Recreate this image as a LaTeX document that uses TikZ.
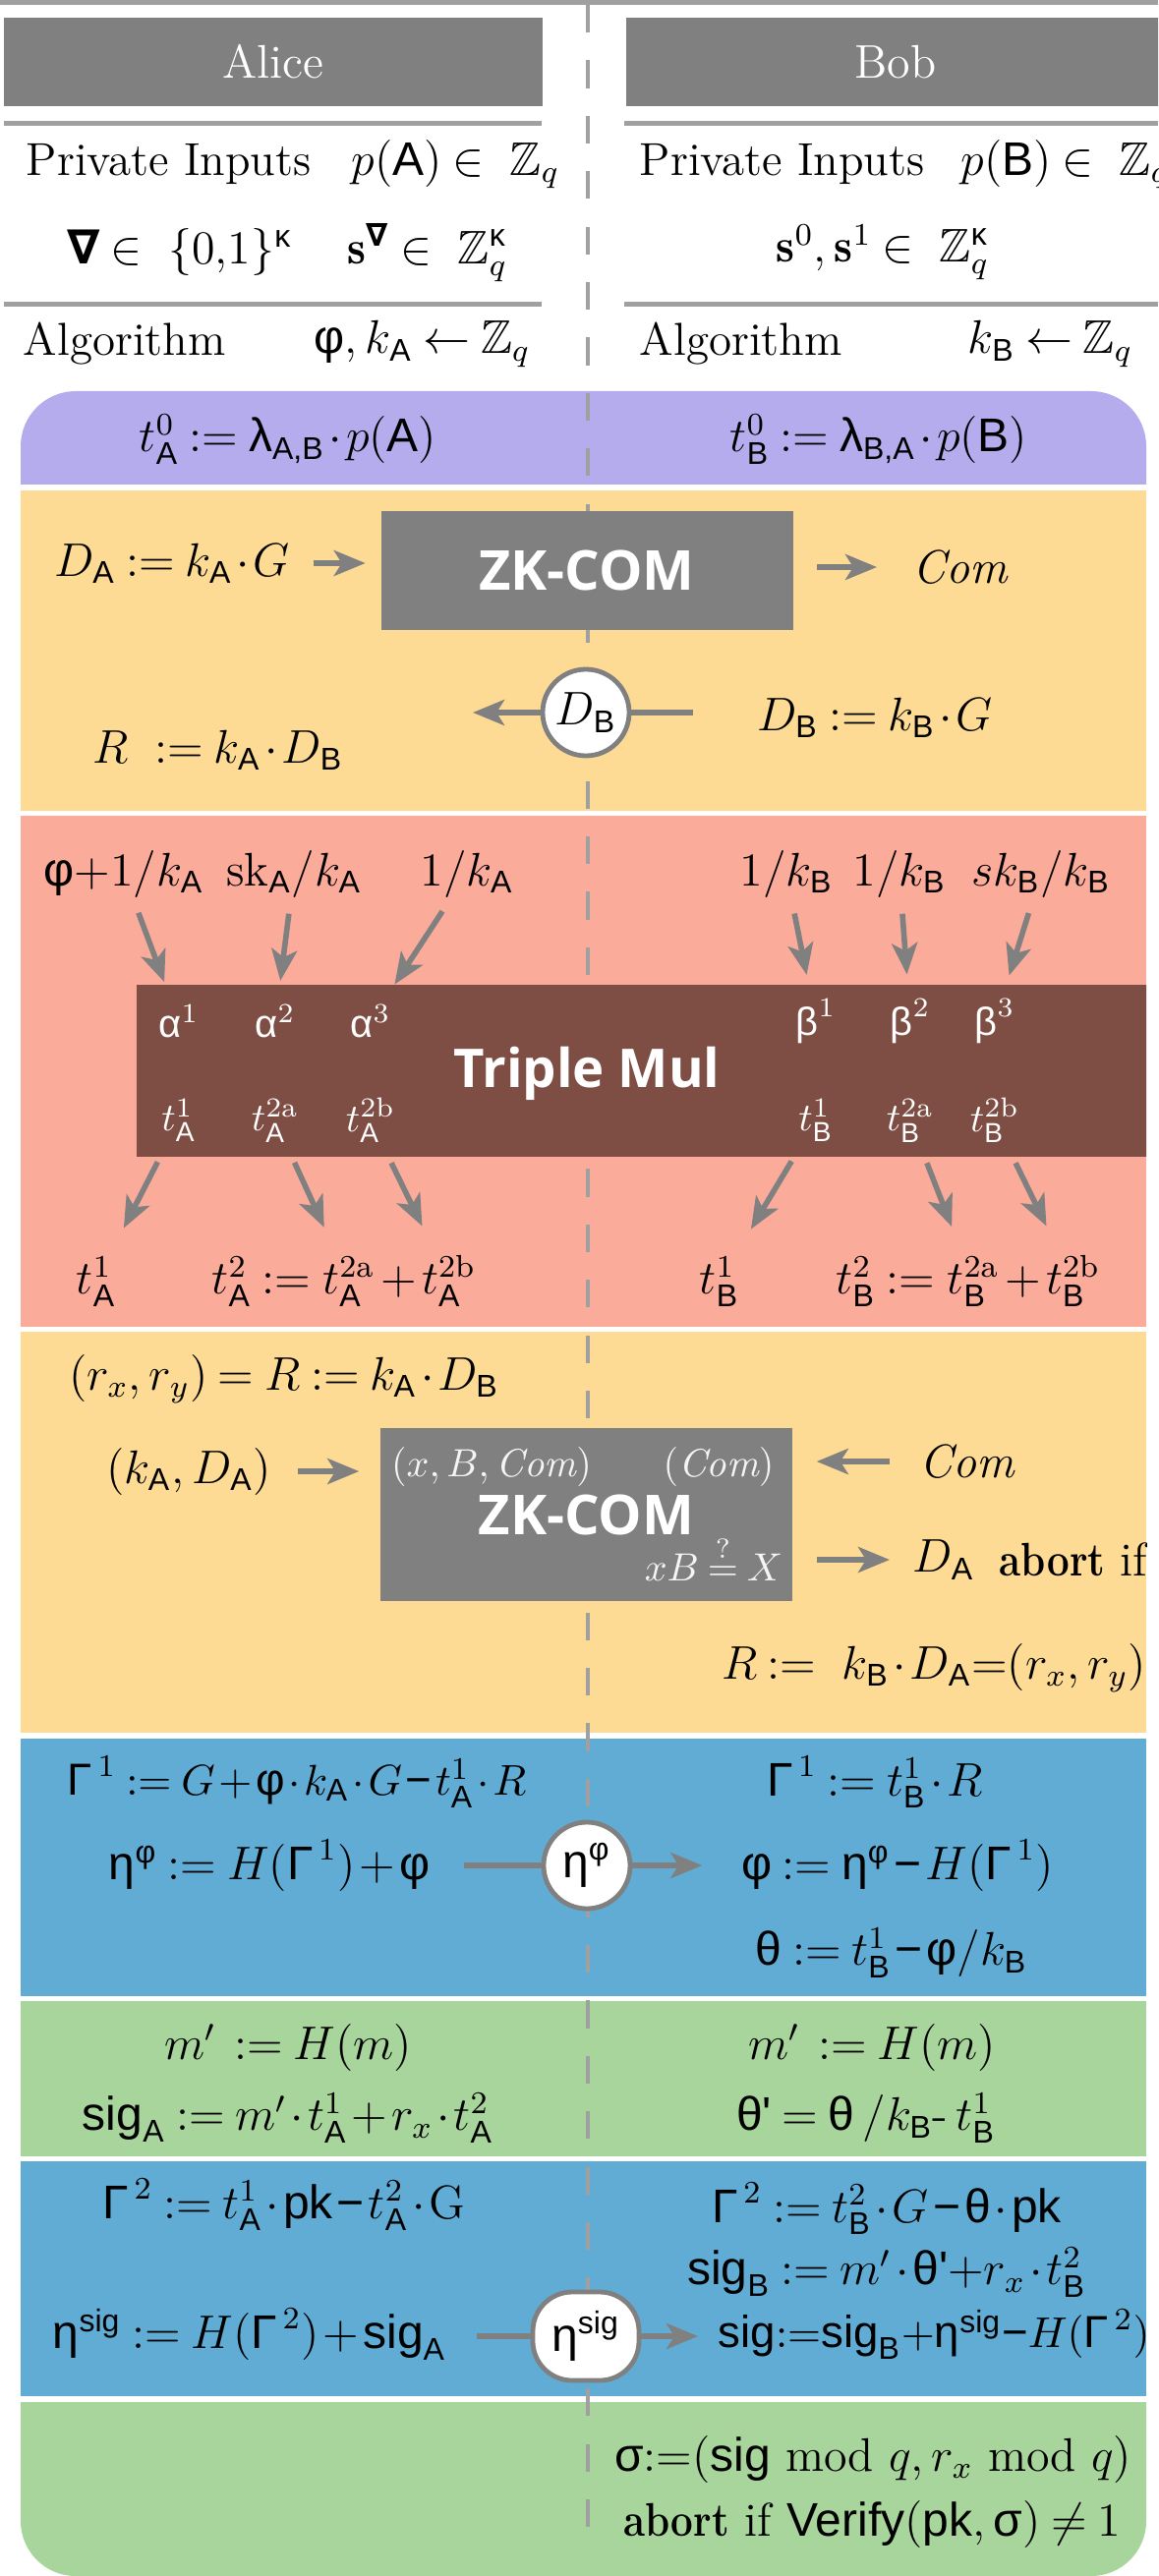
\documentclass[tikz,border=0pt]{standalone}
\usepackage{amsmath, amssymb}
\usepackage{graphicx}
\usepackage{fontspec}
\usepackage{tikz}
\usepackage{xcolor}
\usetikzlibrary{arrows.meta, positioning, calc}

\newfontfamily\sfgr{Liberation Sans}
\newfontfamily\dvsans{DejaVu Sans}
\newfontfamily\boxsf{Open Sans}

\newcommand{\sy}[1]{\text{\sfgr #1}}
\newcommand{\sA}{\text{\sfgr A}}
\newcommand{\sB}{\text{\sfgr B}}
\newcommand{\sAB}{\text{\sfgr A,B}}
\newcommand{\sBA}{\text{\sfgr B,A}}
\newcommand{\nab}{\text{\dvsans\bfseries ∇}}
\newcommand{\mn}{\mathbin{\text{\sfgr −}}}
\newcommand{\abortword}{\scalebox{0.84}[1]{\textbf{abort}}}

\medmuskip=1.5mu plus 1mu minus 1mu
\thickmuskip=4mu plus 2mu

\definecolor{hdrgray}{RGB}{128,128,128}
\definecolor{rulegray}{RGB}{160,160,160}
\definecolor{lilac}{RGB}{180,172,236}
\definecolor{sand}{RGB}{253,219,149}
\definecolor{salmon}{RGB}{251,171,153}
\definecolor{cocoa}{RGB}{126,78,68}
\definecolor{sky}{RGB}{96,172,212}
\definecolor{sage}{RGB}{168,213,156}

\begin{document}
\begin{tikzpicture}[x=0.25pt, y=-0.25pt,
  eq/.style={inner sep=0pt, font=\fontsize{12}{14}\selectfont},
  eqs/.style={inner sep=0pt, font=\fontsize{11.4}{14}\selectfont},
  txt/.style={inner sep=0pt, font=\fontsize{11.75}{14}\selectfont},
  who/.style={fill=hdrgray, text=white, minimum width=137pt, minimum height=22.5pt,
    inner sep=0pt, font=\fontsize{12}{14}\selectfont},
  zk/.style={fill=hdrgray, text=white, minimum width=104.75pt, inner sep=0pt,
    font=\boxsf\bfseries\fontsize{14}{16}\selectfont},
  mul/.style={fill=cocoa, minimum width=262.75pt, minimum height=43.75pt, inner sep=0pt},
  mulname/.style={text=white, inner sep=0pt, font=\boxsf\bfseries\fontsize{13.6}{16}\selectfont},
  inbox/.style={text=white, inner sep=0pt, font=\fontsize{10}{12}\selectfont},
  note/.style={text=white!92!hdrgray, inner sep=0pt, font=\fontsize{10}{12}\selectfont},
  msg/.style={circle, draw=hdrgray, line width=1.2pt, fill=white, minimum size=22pt,
    inner sep=0pt, font=\fontsize{12}{14}\selectfont},
  oval/.style={rectangle, rounded corners=10pt, draw=hdrgray, line width=1.2pt, fill=white,
    minimum width=27pt, minimum height=22.5pt, inner sep=0pt, font=\fontsize{12}{14}\selectfont},
  wire/.style={draw=hdrgray, line width=1.4pt},
  flow/.style={wire, -{Stealth[length=8pt, width=6.5pt, inset=2pt]}},
  sep/.style={draw=rulegray, line width=1.25pt}]
\useasboundingbox (0,0) rectangle (1178,2621);
\clip (0,0) rectangle (1178,2621);

% parties
\draw[sep] (0,2.5) -- (1178,2.5);
\node[who] (alice) at (278,63) {Alice};
\node[who] (bob) at (911,63) {Bob};
\draw[sep] (4,125.5) -- (551,125.5);
\draw[sep] (635,125.5) -- (1178,125.5);
\draw[sep] (4,310) -- (551,310);
\draw[sep] (635,310) -- (1178,310);

\node[txt, anchor=west] (privA) at (26,167) {Private Inputs};
\node[eq, anchor=west] (pA) at (357,167) {$p(\sA)\in\ \mathbb{Z}_q$};
\node[txt, anchor=west] (privB) at (650,167) {Private Inputs};
\node[eq, anchor=west] (pB) at (977,167) {$p(\sB)\in\ \mathbb{Z}_q$};
\node[eq, anchor=west] (nabA) at (68,257) {$\nab\in\ \{0{,}1\}^{\sy{κ}}$};
\node[eq, anchor=west] (sA) at (353,257) {$\mathbf{s}^{\nab}\in\ \mathbb{Z}_q^{\sy{κ}}$};
\node[eq] (sB) at (898,257) {$\mathbf{s}^0,\mathbf{s}^1\in\ \mathbb{Z}_q^{\sy{κ}}$};
\node[txt, anchor=west] (algA) at (23,350) {Algorithm};
\node[eq, anchor=west] (rndA) at (319,350) {$\sy{φ}, k_{\sA}\leftarrow\mathbb{Z}_q$};
\node[txt, anchor=west] (algB) at (650,350) {Algorithm};
\node[eq, anchor=west] (rndB) at (984,350) {$k_{\sB}\leftarrow\mathbb{Z}_q$};

% bands
\begin{scope}
\clip (0,398) rectangle (1178,493);
\fill[lilac, rounded corners=14pt] (21,398) rectangle (1166,600);
\end{scope}
\fill[sand] (21,499) rectangle (1166,825);
\fill[salmon] (21,830) rectangle (1166,1350);
\fill[sand] (21,1355) rectangle (1166,1763);
\fill[sky] (21,1769) rectangle (1166,2031);
\fill[sage] (21,2036) rectangle (1166,2194);
\fill[sky] (21,2199) rectangle (1166,2438);
\begin{scope}
\clip (0,2444) rectangle (1178,2621);
\fill[sage, rounded corners=14pt] (21,2300) rectangle (1166,2621);
\end{scope}

\draw[rulegray, line width=1pt, dash pattern=on 7.05pt off 7.05pt] (597.5,5) -- (597.5,2575);

\begin{scope}
\clip (0,390) rectangle (1166,2621);

% shares
\node[eq] (tA0) at (293,447) {$t^0_{\sA}:=\sy{λ}_{\sAB}\cdot p(\sA)$};
\node[eq] (tB0) at (894,447) {$t^0_{\sB}:=\sy{λ}_{\sBA}\cdot p(\sB)$};

% commitments
\node[zk, minimum height=30.25pt] (zk1) at (597,580.5) {ZK-COM};
\node[eq] (dA) at (175,573) {$D_{\sA}:=k_{\sA}\cdot G$};
\node[eq, anchor=west] (com1) at (928,577) {$\mathit{Com}$};
\node[msg] (msgDB) at (596,725) {$D_{\sB}$};
\node[eq] (dB) at (890,730) {$D_{\sB}:=k_{\sB}\cdot G$};
\node[eq] (rA) at (222,763) {$R\ :=k_{\sA}\cdot D_{\sB}$};
\coordinate (dbIn) at (481,725);
\draw[flow, shorten <=5.75pt, shorten >=3.75pt] (dA.east) -- (dA.east -| zk1.west);
\draw[flow, shorten <=6pt, shorten >=9pt] (zk1.east |- com1) -- (com1.west);
\draw[wire, shorten >=16pt] (msgDB.east) -- (msgDB.east -| dB.west);
\draw[flow] (msgDB.west) -- (dbIn);

% triple multiplication
\node[eq] (in1) at (126,889) {$\sy{φ}{+}1/k_{\sA}$};
\node[eq] (in2) at (299,889) {$\mathrm{sk}_{\sA}/k_{\sA}$};
\node[eq] (in3) at (475,889) {$1/k_{\sA}$};
\node[eq] (in4) at (800,889) {$1/k_{\sB}$};
\node[eq] (in5) at (915,889) {$1/k_{\sB}$};
\node[eq] (in6) at (1059,889) {$sk_{\sB}/k_{\sB}$};
\node[mul] (mulbox) at (664.5,1089.5) {};
\node[mulname] (mulLbl) at (597,1092) {Triple Mul};
\node[inbox] (a1) at (182,1039) {$\sy{α}^1$};
\node[inbox] (a2) at (280,1039) {$\sy{α}^2$};
\node[inbox] (a3) at (377,1039) {$\sy{α}^3$};
\node[inbox] (b1) at (830,1039) {$\sy{β}^1$};
\node[inbox] (b2) at (926,1039) {$\sy{β}^2$};
\node[inbox] (b3) at (1012,1039) {$\sy{β}^3$};
\node[inbox] (ta1in) at (182,1140) {$t^1_{\sA}$};
\node[inbox] (ta2ain) at (280,1140) {$t^{2\mathrm{a}}_{\sA}$};
\node[inbox] (ta2bin) at (377,1140) {$t^{2\mathrm{b}}_{\sA}$};
\node[inbox] (tb1in) at (830,1140) {$t^1_{\sB}$};
\node[inbox] (tb2ain) at (926,1140) {$t^{2\mathrm{a}}_{\sB}$};
\node[inbox] (tb2bin) at (1012,1140) {$t^{2\mathrm{b}}_{\sB}$};
\draw[flow, shorten <=4pt, shorten >=6pt] (in1) -- (a1);
\draw[flow, shorten <=4pt, shorten >=6pt] (in2) -- (a2);
\draw[flow, shorten <=4pt, shorten >=6pt] (in3) -- (a3);
\draw[flow, shorten <=4pt, shorten >=6pt] (in4) -- (b1);
\draw[flow, shorten <=4pt, shorten >=6pt] (in5) -- (b2);
\draw[flow, shorten <=4pt, shorten >=6pt] (in6) -- (b3);

\node[eq] (tA1) at (98,1304) {$t^1_{\sA}$};
\node[eq] (ta2a) at (355,1304) {$t^{2\mathrm{a}}_{\sA}$};
\node[eq, anchor=base east] (ta2) at (ta2a.base west) {$t^2_{\sA}:={}$};
\node[eq, anchor=base west] (ta2p) at (ta2a.base east) {${}+{}$};
\node[eq, anchor=base west] (ta2b) at (ta2p.base east) {$t^{2\mathrm{b}}_{\sA}$};
\node[eq] (tB1) at (732,1304) {$t^1_{\sB}$};
\node[eq] (tb2a) at (990,1304) {$t^{2\mathrm{a}}_{\sB}$};
\node[eq, anchor=base east] (tb2) at (tb2a.base west) {$t^2_{\sB}:={}$};
\node[eq, anchor=base west] (tb2p) at (tb2a.base east) {${}+{}$};
\node[eq, anchor=base west] (tb2b) at (tb2p.base east) {$t^{2\mathrm{b}}_{\sB}$};
\draw[flow, shorten <=5.5pt, shorten >=8pt] (ta1in) -- (tA1);
\draw[flow, shorten <=5.5pt, shorten >=8pt] (ta2ain) -- (ta2a);
\draw[flow, shorten <=5.5pt, shorten >=8pt] (ta2bin) -- (ta2b);
\draw[flow, shorten <=5.5pt, shorten >=8pt] (tb1in) -- (tB1);
\draw[flow, shorten <=5.5pt, shorten >=8pt] (tb2ain) -- (tb2a);
\draw[flow, shorten <=5.5pt, shorten >=8pt] (tb2bin) -- (tb2b);

% R and the opening
\node[eq] (rr) at (289,1403) {$(r_x,r_y)=R:=k_{\sA}\cdot D_{\sB}$};
\node[zk, minimum height=44pt] (zk2) at (596.5,1541) {ZK-COM};
\node[note] (zkIn) at (500,1492) {$(x,B,\mathit{Com})$};
\node[note] (zkCom) at (731,1492) {$(\mathit{Com})$};
\node[note] (zkChk) at (726,1585) {$xB\overset{?}{=}X$};
\node[eq] (kd) at (192,1497) {$(k_{\sA},D_{\sA})$};
\node[eq, anchor=west] (com2) at (935,1487) {$\mathit{Com}$};
\node[eq, anchor=west] (dA2) at (928,1587) {$D_{\sA}$};
\node[eq, anchor=west] (abort1) at (1016,1587) {\abortword{} if};
\node[eq] (rB) at (950,1697) {$R:=\ k_{\sB}\cdot D_{\sA}{=}(r_x,r_y)$};
\draw[flow, shorten <=6.5pt, shorten >=5.25pt] (kd.east) -- (kd.east -| zk2.west);
\draw[flow, shorten <=7.5pt, shorten >=6pt] (com2.west) -- (com2.west -| zk2.east);
\draw[flow, shorten <=6pt, shorten >=5.75pt] (zk2.east |- dA2) -- (dA2.west);

% first exchange
\node[eqs] (gA1) at (302,1813) {$\sy{Γ}^{\,1}:=G+\sy{φ}\cdot k_{\sA}\cdot G\mn t^1_{\sA}\cdot R$};
\node[eq] (gB1) at (890,1813) {$\sy{Γ}^{\,1}:=t^1_{\sB}\cdot R$};
\node[eq] (etaA) at (274,1898) {$\sy{η}^{\sy{φ}}:=H(\sy{Γ}^{\,1})+\sy{φ}$};
\node[msg] (msgEta) at (597,1898) {$\sy{η}^{\sy{φ}}$};
\node[eq] (phiB) at (913,1898) {$\sy{φ}:=\sy{η}^{\sy{φ}}\mn H(\sy{Γ}^{\,1})$};
\node[eq] (thB) at (907,1987) {$\sy{θ}:=t^1_{\sB}\mn\sy{φ}/k_{\sB}$};
\draw[wire, shorten <=8.5pt] (msgEta.west -| etaA.east) -- (msgEta.west);
\draw[flow, shorten >=9.75pt] (msgEta.east) -- (msgEta.east -| phiB.west);

% local values
\node[eq] (mA) at (293,2083) {$m'\,:=H(m)$};
\node[eq] (mB) at (887,2083) {$m'\,:=H(m)$};
\node[eq] (sigA) at (293,2155) {$\sy{sig}_{\sA}:=m'\cdot t^1_{\sA}+r_x\cdot t^2_{\sA}$};
\node[eq] (thpB) at (881,2155) {$\sy{θ'}=\sy{θ}\,/k_{\sB}\text{-}\,t^1_{\sB}$};

% second exchange
\node[eq] (gA2) at (289,2243) {$\sy{Γ}^{\,2}:=t^1_{\sA}\cdot\sy{pk}\mn t^2_{\sA}\cdot\mathrm{G}$};
\node[eq] (gB2) at (902,2247) {$\sy{Γ}^{\,2}:=t^2_{\sB}\cdot G\mn\sy{θ}\cdot\sy{pk}$};
\node[eq] (sigB) at (902,2312) {$\sy{sig}_{\sB}:=m'\cdot\sy{θ'}{+}r_x\cdot t^2_{\sB}$};
\node[eq] (etaS) at (254,2375) {$\sy{η}^{\sy{sig}}:=H(\sy{Γ}^{\,2})+\sy{sig}_{\sA}$};
\node[oval] (msgSig) at (596,2377) {$\sy{η}^{\sy{sig}}$};
\node[eqs, anchor=west] (sigAll) at (730,2375) {$\sy{sig}{:=}\sy{sig}_{\sB}{+}\sy{η}^{\sy{sig}}{\mn}H(\sy{Γ}^{\,2})$};
\draw[wire, shorten <=7.5pt] (msgSig.west -| etaS.east) -- (msgSig.west);
\draw[flow, shorten >=5pt] (msgSig.east) -- (msgSig.east -| sigAll.west);

% output
\node[eq] (sigma) at (888,2502) {$\sy{σ}{:=}(\sy{sig}\ \mathrm{mod}\ q,r_x\ \mathrm{mod}\ q)$};
\node[eq] (verify) at (887,2568) {\abortword{} if $\sy{Verify}(\sy{pk},\sy{σ})\neq 1$};
\end{scope}
\end{tikzpicture}
\end{document}
